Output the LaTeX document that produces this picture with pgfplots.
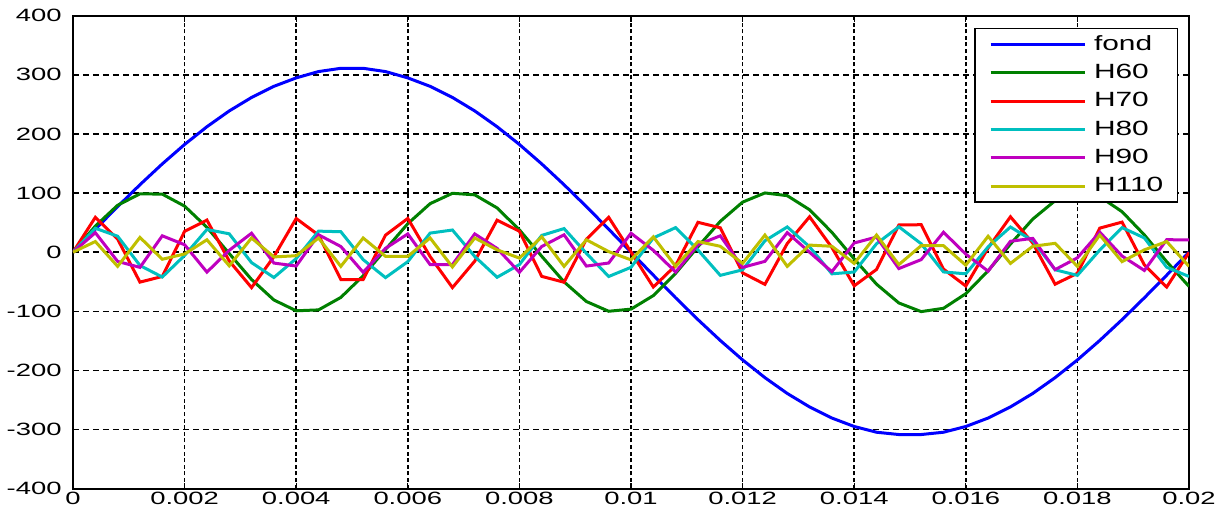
\documentclass[border=0pt]{standalone}
\usepackage{fontspec}
\setmainfont{Liberation Sans}
\newfontfamily\tickfont{Liberation Sans}[FakeStretch=1.54]
\newfontfamily\legfont{Liberation Sans}[FakeStretch=1.45]
\usepackage{pgfplots}
\usepackage{pgfplotstable}
\pgfplotsset{compat=1.18}

\definecolor{mblue}{rgb}{0,0,1}
\definecolor{mgreen}{rgb}{0,0.5,0}
\definecolor{mred}{rgb}{1,0,0}
\definecolor{mcyan}{rgb}{0,0.75,0.75}
\definecolor{mmag}{rgb}{0.75,0,0.75}
\definecolor{myel}{rgb}{0.75,0.75,0}

% samples every 0.4 ms
\pgfplotstableread{
t      fond   h60    h70    h80    h90    h110
0      0      0      0      0      0      0
0.0004 38.9   44.1   58.9   40.5   33.0   18
0.0008 77.1   79.4   22.1   27.0   -15.6  -24
0.0012 114.1  98.7   -50.6  -22.5  -25.7  25
0.0016 149.3  98.2   -41.1  -42.0  27.7   -12
0.002  182.2  77.9   35.2   -5.5   12.6   -3
0.0024 212.2  42.0   54.3   38.4   -33.7  21
0.0028 238.9  -2.3   -14.9  31.1   3.2    -23
0.0032 261.7  -46.2  -59.9  -17.7  32.1   24
0.0036 280.5  -80.8  -7.6   -42.8  -18.4  -8
0.004  294.8  -99.1  57.0   -10.8  -23.4  -6
0.0044 305.5  -97.6  29.0   35.6   29.5   24
0.0048 311.0  -76.5  -46.2  34.6   9.6    -24
0.0052 311.0  -39.9  -46.3  -12.6  -34.0  24
0.0056 305.5  4.6    28.8   -43.0  6.5    -7
0.006  294.8  48.2   57.1   -16.0  30.9   -7
0.0064 280.5  82.1   -7.4   32.3   -21.0  24
0.0068 261.7  99.6   -59.9  37.5   -21.0  -25
0.0072 238.9  97.0   -15.1  -7.3   30.9   24
0.0076 212.2  74.9   54.2   -42.4  6.4    4
0.008  182.2  37.8   35.4   -21.0  -34.0  -10
0.0084 149.3  -6.9   -40.9  28.4   9.6    26
0.0088 114.1  -50.2  -50.8  39.9   29.4   -24
0.0092 77.1   -83.4  21.9   -1.8   -23.5  21
0.0096 38.9   -99.9  59.0   -41.1  -18.3  1
0.01   0      -96.3  0.3    -25.6  32.1   -13
0.0104 -38.9  -73.4  -58.9  24.1   3.2    26
0.0108 -77.1  -35.7  -22.4  41.6   -33.6  -24
0.0112 -114.1 9.2    50.5   3.7    12.7   18
0.0116 -149.3 52.2   41.3   -39.2  27.7   10
0.012  -182.2 84.7   -35.0  -29.8  -25.7  -19
0.0124 -212.2 100.2  -54.4  19.3   -15.5  29
0.0128 -238.9 95.6   14.6   42.7   33.1   -24
0.0132 -261.7 71.8   59.9   9.1    -0.1   12
0.0136 -280.5 33.6   7.9    -36.6  -33.0  10
0.014  -294.8 -11.4  -56.9  -33.5  15.6   -19
0.0144 -304.5 -54.1  -29.2  14.3   25.6   29
0.0148 -308.4 -85.9  46.0   43.0   -27.7  -21
0.0152 -308.4 -100.5 46.5   14.3   -12.6  11
0.0156 -304.5 -94.9  -28.6  -33.4  33.7   11
0.016  -294.8 -70.2  -57.2  -36.6  -3.3   -22
0.0164 -280.5 -31.4  7.1    9.0    -32.1  27
0.0168 -261.7 13.7   59.9   42.6   18.5   -19
0.0172 -238.9 56.0   15.4   19.4   23.4   10
0.0176 -212.2 87.1   -54.1  -29.7  -29.5  15
0.018  -182.2 100.7  -35.6  -39.2  -9.5   -24
0.0184 -149.3 94.0   40.7   3.6    34.0   29
0.0188 -114.1 68.5   50.9   41.6   -6.5   -16
0.0192 -77.1  29.2   -21.6  24.1   -30.9  4
0.0196 -38.9  -16.0  -59.0  -25.5  21.1   18
0.02   0      -57.9  -0.5   -41.1  20.9   -24
}\data

\begin{document}
\begin{tikzpicture}
\begin{axis}[
  scale only axis,
  width=558pt, height=236.5pt,
  xmin=0, xmax=0.02, ymin=-400, ymax=400,
  xtick={0,0.002,0.004,0.006,0.008,0.01,0.012,0.014,0.016,0.018,0.02},
  xticklabels={0,0.002,0.004,0.006,0.008,0.01,0.012,0.014,0.016,0.018,0.02},
  ytick={-400,-300,-200,-100,0,100,200,300,400},
  yticklabels={-400,-300,-200,-100,0,100,200,300,400},
  tick label style={font=\tickfont\fontsize{8.9}{10}\selectfont, inner sep=0pt},
  xticklabel style={yshift=-1.5pt},
  yticklabel style={xshift=-5.5pt},
  tick align=inside,
  major tick length=3pt,
  tick style={black, line width=0.6pt},
  axis line style={black, line width=0.9pt},
  xmajorgrids, ymajorgrids,
  major x grid style={black, line width=0.8pt, dash pattern=on 2pt off 1.3pt},
  major y grid style={black, line width=0.8pt, dash pattern=on 3pt off 2pt},
  legend cell align=left,
  legend image code/.code={\draw[#1] (0pt,0pt) -- (47pt,0pt);},
  legend style={at={(0.99,0.975)}, anchor=north east,
    draw=black, line width=0.6pt, fill=white,
    inner xsep=7pt, inner ysep=3.5pt,
    row sep=5.5pt, column sep=4pt,
    font=\legfont\fontsize{10.3}{12}\selectfont,
    nodes={inner sep=0pt}},
  every axis plot/.append style={line width=1.5pt, no marks},
]
\coordinate (sw) at (rel axis cs:0,0);
\coordinate (ne) at (rel axis cs:1,1);
\addplot[mblue] table[x=t, y=fond] {\data};
\addplot[mgreen] table[x=t, y=h60] {\data};
\addplot[mred] table[x=t, y=h70] {\data};
\addplot[mcyan] table[x=t, y=h80] {\data};
\addplot[mmag] table[x=t, y=h90] {\data};
\addplot[myel] table[x=t, y=h110] {\data};
\legend{fond,H60,H70,H80,H90,H110}
\end{axis}
\pgfresetboundingbox
\path ([shift={(-36.5pt,-14pt)}]sw) rectangle ([shift={(20pt,7.85pt)}]ne);
\end{tikzpicture}
\end{document}
